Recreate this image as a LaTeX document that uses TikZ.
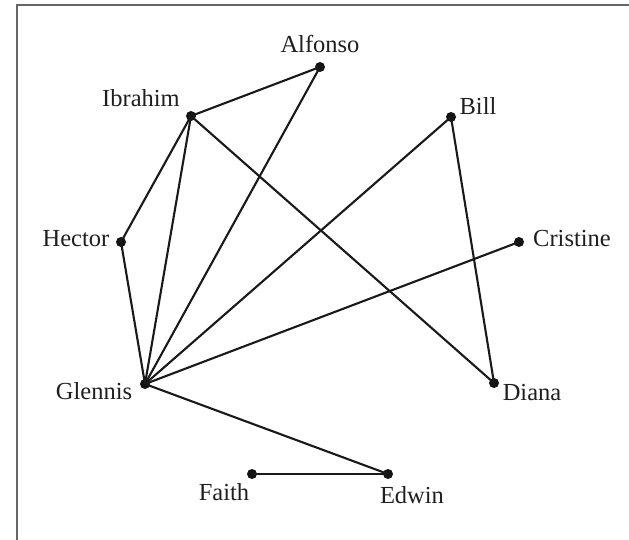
\documentclass[tikz,border=0pt]{standalone}
\usepackage{fontspec}
\setmainfont{Liberation Serif}
\begin{document}
\begin{tikzpicture}[x=1pt,y=-1pt,
  vtx/.style={circle,fill=black!92,inner sep=0pt,minimum size=10pt},
  lbl/.style={anchor=base,inner sep=0pt,font=\fontsize{24.5}{28}\selectfont,text=black!88},
  edge/.style={line width=2.1pt,draw=black!90}]
\useasboundingbox (0,0) rectangle (629,540);
\draw[line width=1.5pt,draw=black!60] (17,560) -- (17,5) -- (650,5);
% vertices
\node[vtx] (A) at (320,67) {};
\node[vtx] (I) at (191,116) {};
\node[vtx] (B) at (451,117) {};
\node[vtx] (H) at (121,242) {};
\node[vtx] (C) at (519,242) {};
\node[vtx] (G) at (145,384) {};
\node[vtx] (D) at (494,383) {};
\node[vtx] (F) at (252,474) {};
\node[vtx] (E) at (388,474) {};
% labels
\node[lbl] (lA) at (320,53) {Alfonso};
\node[lbl] (lI) at (141,107) {Ibrahim};
\node[lbl] (lB) at (478,115) {Bill};
\node[lbl] (lH) at (76,246) {Hector};
\node[lbl] (lC) at (572,247) {Cristine};
\node[lbl] (lG) at (94,399) {Glennis};
\node[lbl] (lD) at (532,400) {Diana};
\node[lbl] (lF) at (224,500) {Faith};
\node[lbl] (lE) at (412,503) {Edwin};
% edges
\draw[edge] (I.center) -- (A.center);
\draw[edge] (A.center) -- (G.center);
\draw[edge] (I.center) -- (H.center);
\draw[edge] (I.center) -- (G.center);
\draw[edge] (I.center) -- (D.center);
\draw[edge] (B.center) -- (G.center);
\draw[edge] (B.center) -- (D.center);
\draw[edge] (C.center) -- (G.center);
\draw[edge] (H.center) -- (G.center);
\draw[edge] (G.center) -- (E.center);
\draw[edge] (F.center) -- (E.center);
\end{tikzpicture}
\end{document}
